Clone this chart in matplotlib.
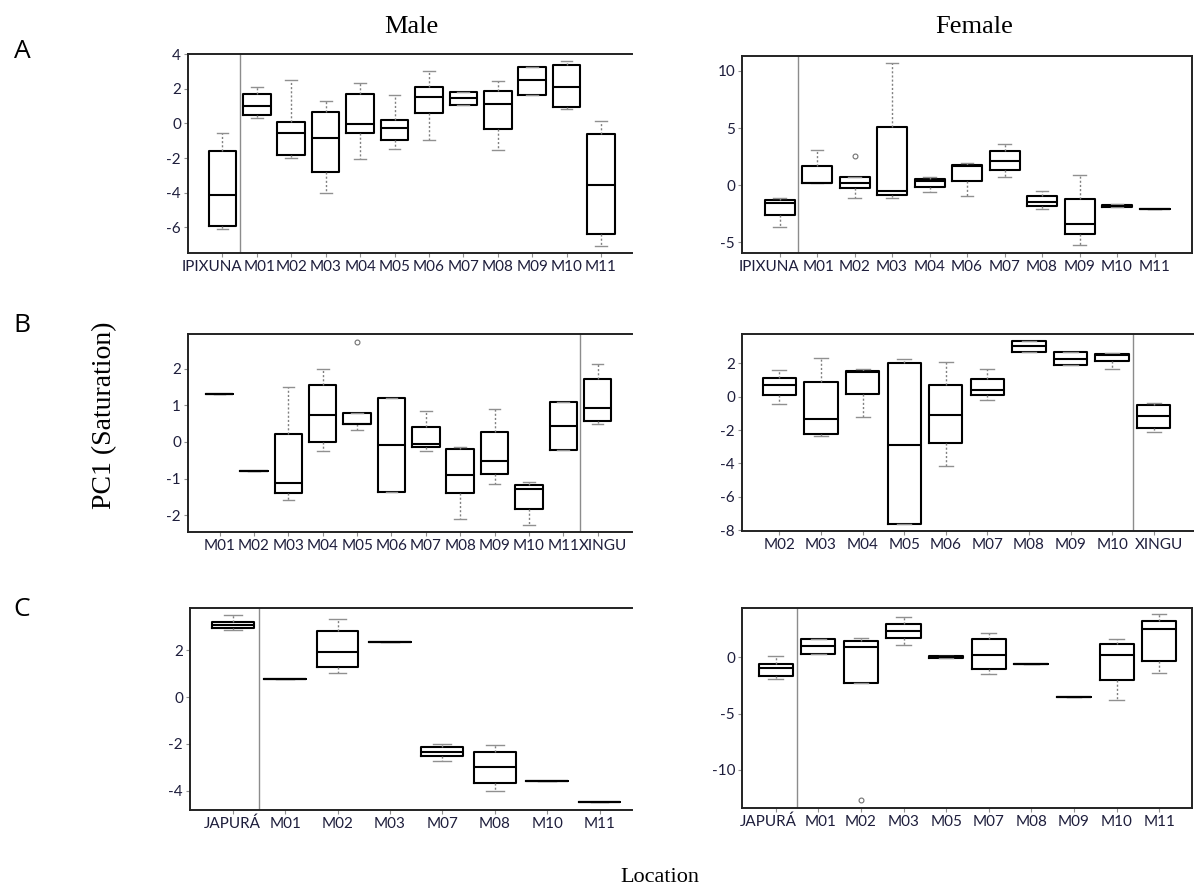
import matplotlib
matplotlib.use("Agg")
import matplotlib.pyplot as plt
from matplotlib.transforms import ScaledTranslation

plt.rcParams["axes.unicode_minus"] = False

# Five-number summaries:
# (whisker low, Q1, median, Q3, whisker high)
A_MALE_LABELS = ["IPIXUNA", "M01", "M02", "M03", "M04", "M05", "M06",
                 "M07", "M08", "M09", "M10", "M11"]
A_MALE_STATS = [
    (-6.10, -5.92, -4.15, -1.60, -0.56),
    (0.29, 0.46, 1.00, 1.69, 2.10),
    (-2.00, -1.83, -0.54, 0.06, 2.50),
    (-4.02, -2.83, -0.87, 0.67, 1.29),
    (-2.06, -0.58, -0.04, 1.69, 2.33),
    (-1.48, -0.98, -0.25, 0.21, 1.62),
    (-0.96, 0.60, 1.52, 2.10, 3.02),
    (1.08, 1.08, 1.46, 1.79, 1.79),
    (-1.52, -0.35, 1.10, 1.85, 2.42),
    (1.63, 1.63, 2.48, 3.27, 3.27),
    (0.81, 0.92, 2.10, 3.37, 3.60),
    (-7.08, -6.40, -3.58, -0.63, 0.13),
]
A_MALE_OUTLIERS = {}

A_FEMALE_LABELS = ["IPIXUNA", "M01", "M02", "M03", "M04", "M06", "M07",
                   "M08", "M09", "M10", "M11"]
A_FEMALE_STATS = [
    (-3.66, -2.65, -1.60, -1.31, -1.16),
    (0.23, 0.23, 0.23, 1.66, 3.08),
    (-1.10, -0.26, 0.23, 0.70, 0.70),
    (-1.08, -0.84, -0.49, 5.12, 10.70),
    (-0.58, -0.12, 0.41, 0.55, 0.73),
    (-0.93, 0.38, 1.72, 1.77, 1.95),
    (0.70, 1.31, 2.15, 2.97, 3.60),
    (-2.06, -1.80, -1.48, -0.96, -0.49),
    (-5.26, -4.27, -3.40, -1.19, 0.93),
    (-1.92, -1.92, -1.86, -1.77, -1.63),
    (-2.06, -2.06, -2.06, -2.06, -2.06),
]
A_FEMALE_OUTLIERS = {"M02": [2.59]}

B_MALE_LABELS = ["M01", "M02", "M03", "M04", "M05", "M06", "M07", "M08",
                 "M09", "M10", "M11", "XINGU"]
B_MALE_STATS = [
    (1.30, 1.30, 1.30, 1.30, 1.30),
    (-0.78, -0.78, -0.78, -0.78, -0.78),
    (-1.58, -1.40, -1.13, 0.23, 1.49),
    (-0.24, 0.01, 0.75, 1.57, 1.99),
    (0.34, 0.49, 0.49, 0.78, 0.78),
    (-1.37, -1.37, -0.09, 1.19, 1.19),
    (-0.24, -0.15, -0.06, 0.41, 0.85),
    (-2.11, -1.40, -0.90, -0.18, -0.15),
    (-1.14, -0.88, -0.51, 0.26, 0.89),
    (-2.27, -1.82, -1.29, -1.18, -1.10),
    (-0.21, -0.21, 0.44, 1.09, 1.09),
    (0.50, 0.57, 0.94, 1.71, 2.13),
]
B_MALE_OUTLIERS = {"M05": [2.73]}

B_FEMALE_LABELS = ["M02", "M03", "M04", "M05", "M06", "M07", "M08", "M09",
                   "M10", "XINGU"]
B_FEMALE_STATS = [
    (-0.46, 0.08, 0.70, 1.12, 1.60),
    (-2.36, -2.22, -1.32, 0.88, 2.30),
    (-1.20, 0.16, 1.50, 1.54, 1.64),
    (-7.66, -7.66, -2.90, 2.04, 2.26),
    (-4.18, -2.78, -1.08, 0.72, 2.10),
    (-0.20, 0.08, 0.40, 1.04, 1.64),
    (2.70, 2.70, 3.02, 3.34, 3.34),
    (1.88, 1.88, 2.28, 2.68, 2.68),
    (1.64, 2.12, 2.52, 2.58, 2.64),
    (-2.14, -1.86, -1.14, -0.52, -0.40),
]
B_FEMALE_OUTLIERS = {}

C_MALE_LABELS = ["JAPURÁ", "M01", "M02", "M03", "M07", "M08", "M10", "M11"]
C_MALE_STATS = [
    (2.89, 2.94, 3.10, 3.23, 3.50),
    (0.77, 0.77, 0.77, 0.77, 0.77),
    (1.01, 1.30, 1.94, 2.81, 3.36),
    (2.34, 2.34, 2.34, 2.34, 2.34),
    (-2.73, -2.54, -2.33, -2.14, -2.00),
    (-4.00, -3.66, -3.00, -2.37, -2.03),
    (-3.59, -3.59, -3.59, -3.59, -3.59),
    (-4.50, -4.50, -4.50, -4.50, -4.50),
]
C_MALE_OUTLIERS = {}

C_FEMALE_LABELS = ["JAPURÁ", "M01", "M02", "M03", "M05", "M07", "M08", "M09",
                   "M10", "M11"]
C_FEMALE_STATS = [
    (-1.90, -1.64, -0.92, -0.54, 0.09),
    (0.30, 0.30, 1.01, 1.67, 1.67),
    (-2.26, -2.26, 0.92, 1.43, 1.70),
    (1.13, 1.76, 2.35, 3.00, 3.60),
    (-0.06, -0.06, 0.03, 0.10, 0.10),
    (-1.49, -1.04, 0.24, 1.67, 2.17),
    (-0.57, -0.57, -0.57, -0.57, -0.57),
    (-3.48, -3.48, -3.48, -3.48, -3.48),
    (-3.78, -1.99, 0.21, 1.19, 1.67),
    (-1.40, -0.30, 2.50, 3.27, 3.84),
]
C_FEMALE_OUTLIERS = {"M02": [-12.7]}

W, H = 1194, 893
TICK_COLOR = "#1e1e3c"


def rect(left, right, top, bottom):
    # pixel box -> figure fraction
    return [left / W, 1 - bottom / H, (right - left) / W, (bottom - top) / H]


def draw_panel(fig, box, labels, stats, outliers, xlim, ylim, yticks,
               sep, right_spine=True, label_shift=None):
    ax = fig.add_axes(box)
    bxp_stats = []
    for name, (lo, q1, med, q3, hi) in zip(labels, stats):
        bxp_stats.append({"whislo": lo, "q1": q1, "med": med, "q3": q3,
                          "whishi": hi, "fliers": outliers.get(name, []),
                          "label": name})
    ax.bxp(
        bxp_stats,
        positions=range(1, len(labels) + 1),
        widths=0.8,
        showfliers=True,
        boxprops=dict(color="black", linewidth=1.5),
        medianprops=dict(color="black", linewidth=1.5),
        whiskerprops=dict(color="#808080", linewidth=1.0, linestyle=(0, (1.5, 1.5))),
        capprops=dict(color="#909090", linewidth=1.0),
        capwidths=0.34,
        flierprops=dict(marker="o", markersize=3.5, markerfacecolor="none",
                        markeredgecolor="#707070", markeredgewidth=0.8),
    )
    ax.axvline(sep, color="#8c8c8c", linewidth=1.0)
    ax.set_xlim(*xlim)
    ax.set_ylim(*ylim)
    ax.set_yticks(yticks)
    ax.set_xticks(range(1, len(labels) + 1))
    ax.set_xticklabels(labels)
    for side in ["left", "bottom", "top", "right"]:
        ax.spines[side].set_color("#222222")
        ax.spines[side].set_linewidth(1.4)
    ax.spines["right"].set_visible(right_spine)
    ax.tick_params(axis="both", length=3, width=0.8, color="#909090",
                   labelsize=11, labelcolor=TICK_COLOR, pad=2)
    for t in ax.get_xticklabels() + ax.get_yticklabels():
        t.set_fontfamily("Lato")
    # the original labels are nudged a little off their ticks
    if label_shift:
        ticklabels = ax.get_xticklabels()
        for idx, dx in label_shift.items():
            t = ticklabels[idx]
            t.set_transform(t.get_transform()
                            + ScaledTranslation(dx / 100, 0, fig.dpi_scale_trans))
    return ax


fig = plt.figure(figsize=(W / 100, H / 100), dpi=100)

draw_panel(fig, rect(188, 632, 54, 253), A_MALE_LABELS, A_MALE_STATS,
           A_MALE_OUTLIERS, (0, 12.9), (-7.48, 4.0), [-6, -4, -2, 0, 2, 4],
           1.5, right_spine=False, label_shift={0: -10, 1: 3})
draw_panel(fig, rect(742, 1192, 56, 253), A_FEMALE_LABELS, A_FEMALE_STATS,
           A_FEMALE_OUTLIERS, (0, 12), (-5.93, 11.3), [-5, 0, 5, 10], 1.5,
           label_shift={0: -10, 1: 2})

draw_panel(fig, rect(188, 632, 334, 532), B_MALE_LABELS, B_MALE_STATS,
           B_MALE_OUTLIERS, (0.08, 13.0), (-2.46, 2.95), [-2, -1, 0, 1, 2],
           11.5, right_spine=False, label_shift={11: 5})
draw_panel(fig, rect(742, 1194, 334, 531), B_FEMALE_LABELS, B_FEMALE_STATS,
           B_FEMALE_OUTLIERS, (0.1, 10.97), (-8.06, 3.76),
           [-8, -6, -4, -2, 0, 2], 9.5, right_spine=False,
           label_shift={9: 5})

draw_panel(fig, rect(190, 632, 608, 810), C_MALE_LABELS, C_MALE_STATS,
           C_MALE_OUTLIERS, (0.185, 8.62), (-4.83, 3.81), [-4, -2, 0, 2],
           1.5, right_spine=False)
draw_panel(fig, rect(742, 1192, 608, 808), C_FEMALE_LABELS, C_FEMALE_STATS,
           C_FEMALE_OUTLIERS, (0.21, 10.77), (-13.4, 4.4), [-10, -5, 0], 1.5,
           label_shift={0: -7, 1: 2})

serif = "Liberation Serif"
fig.text(411 / W, 1 - 27 / H, "Male", family=serif, fontsize=19,
         ha="center", va="center")
fig.text(974 / W, 1 - 27 / H, "Female", family=serif, fontsize=19,
         ha="center", va="center")
fig.text(660 / W, 1 - 878 / H, "Location", family=serif, fontsize=16,
         ha="center", va="center")
fig.text(105 / W, 1 - 415 / H, "PC1 (Saturation)", family=serif,
         fontsize=20, rotation=90, ha="center", va="center")
for letter, y in [("A", 51), ("B", 326), ("C", 610)]:
    fig.text(22 / W, 1 - y / H, letter, family="Open Sans", fontsize=19,
             ha="center", va="center")

fig.savefig("out.png", dpi=100)
